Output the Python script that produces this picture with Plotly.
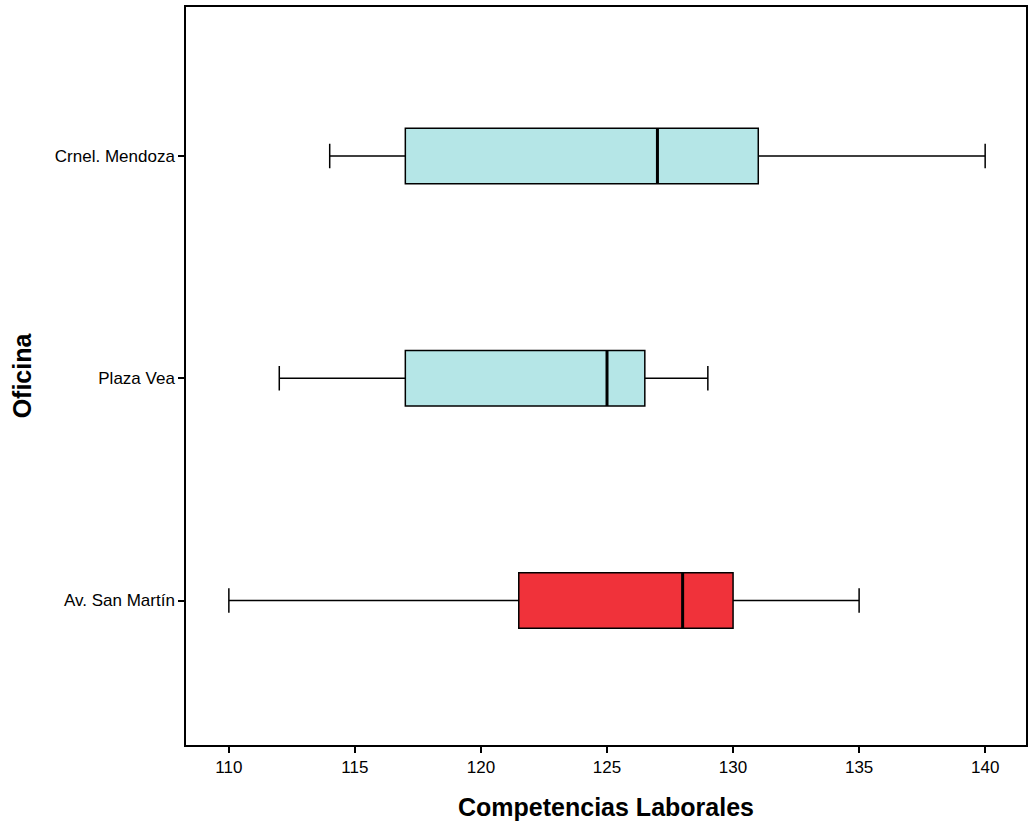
import plotly.graph_objects as go

categories = ["Av. San Martín", "Plaza Vea", "Crnel. Mendoza"]
lower = [110, 112, 114]
q1 = [121.5, 117, 117]
median = [128, 125, 127]
q3 = [130, 126.5, 131]
upper = [135, 129, 140]
colors = ["#F0323A", "#B5E6E7", "#B5E6E7"]
tick_vals = [110, 115, 120, 125, 130, 135, 140]

BOX_W = 0.25

fig = go.Figure()
for i, cat in enumerate(categories):
    fig.add_trace(go.Box(
        y=[i], q1=[q1[i]], median=[median[i]], q3=[q3[i]],
        lowerfence=[lower[i]], upperfence=[upper[i]],
        orientation="h", width=BOX_W, whiskerwidth=0.44,
        fillcolor=colors[i], line=dict(color="black", width=1.5),
        boxpoints=False, showlegend=False, hoverinfo="skip",
    ))
    fig.add_shape(type="line", x0=median[i], x1=median[i],
                  y0=i - BOX_W / 2, y1=i + BOX_W / 2,
                  xref="x", yref="y", line=dict(color="black", width=3))

fig.update_layout(
    width=1033, height=832,
    margin=dict(l=186, r=5, t=7, b=87),
    plot_bgcolor="white", paper_bgcolor="white",
    font=dict(family="Liberation Sans, Arial, sans-serif", color="black", size=17),
)
fig.update_xaxes(
    range=[108.3, 141.62], tickvals=tick_vals, ticks="outside", ticklen=6,
    tickwidth=1.5, tickcolor="black", showgrid=False, zeroline=False,
    showline=True, linecolor="black", linewidth=1.5, mirror=True,
    title=dict(text="<b>Competencias Laborales</b>", font=dict(size=25), standoff=22),
    tickfont=dict(size=17),
)
fig.update_yaxes(
    range=[-0.65, 2.67], tickvals=[0, 1, 2], ticktext=categories,
    ticks="outside", ticklen=6, tickwidth=1.5, tickcolor="black",
    showgrid=False, zeroline=False,
    showline=True, linecolor="black", linewidth=1.5, mirror=True,
    title=dict(text="<b>Oficina</b>", font=dict(size=25), standoff=16),
    tickfont=dict(size=17),
)

fig.write_html("out.html")
